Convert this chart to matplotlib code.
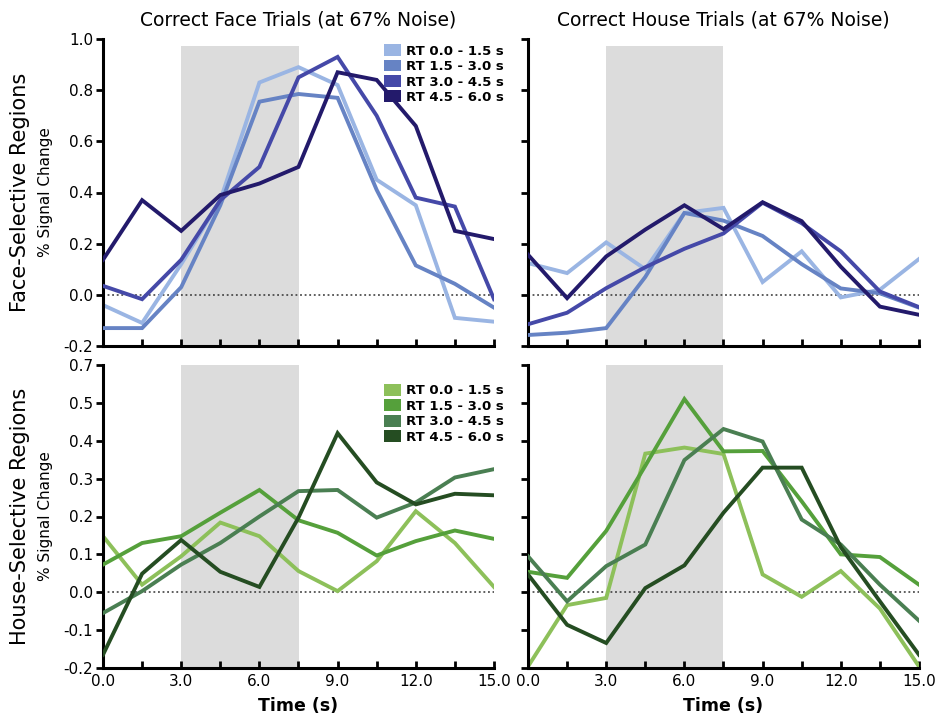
"""Face/house selective regions: % signal change by RT bin."""
import numpy as np
import matplotlib
matplotlib.use('Agg')
import matplotlib.pyplot as plt
from matplotlib.patches import Patch

time = [0.0, 1.5, 3.0, 4.5, 6.0, 7.5, 9.0, 10.5, 12.0, 13.5, 15.0]
rt_labels = ['RT 0.0 - 1.5 s', 'RT 1.5 - 3.0 s', 'RT 3.0 - 4.5 s', 'RT 4.5 - 6.0 s']
col_titles = ['Correct Face Trials (at 67% Noise)', 'Correct House Trials (at 67% Noise)']
row_titles = ['Face-Selective Regions', 'House-Selective Regions']
xtick_labels = ['0.0', '3.0', '6.0', '9.0', '12.0', '15.0']
ytick_labels_top = ['-0.2', '0.0', '0.2', '0.4', '0.6', '0.8', '1.0']
ytick_labels_bot = ['-0.2', '-0.1', '0.0', '0.1', '0.2', '0.3', '0.4', '0.5', '0.7']

# face-selective regions, correct face trials
face_face = [
    [-0.04, -0.11, 0.12, 0.37, 0.83, 0.89, 0.82, 0.45, 0.35, -0.09, -0.105],
    [-0.13, -0.13, 0.03, 0.35, 0.755, 0.785, 0.77, 0.41, 0.115, 0.043, -0.05],
    [0.035, -0.017, 0.137, 0.37, 0.50, 0.85, 0.93, 0.70, 0.38, 0.345, -0.017],
    [0.137, 0.37, 0.25, 0.39, 0.435, 0.50, 0.87, 0.84, 0.66, 0.25, 0.218],
]
# face-selective regions, correct house trials
face_house = [
    [0.124, 0.085, 0.205, 0.10, 0.32, 0.34, 0.05, 0.17, -0.01, 0.02, 0.14],
    [-0.157, -0.148, -0.13, 0.07, 0.32, 0.29, 0.23, 0.12, 0.025, 0.006, -0.05],
    [-0.115, -0.07, 0.026, 0.108, 0.18, 0.24, 0.36, 0.28, 0.17, 0.013, -0.048],
    [0.157, -0.013, 0.15, 0.255, 0.35, 0.257, 0.362, 0.288, 0.11, -0.046, -0.078],
]
# house-selective regions, correct face trials
house_face = [
    [0.148, 0.02, 0.095, 0.184, 0.148, 0.056, 0.003, 0.082, 0.214, 0.13, 0.014],
    [0.073, 0.13, 0.148, 0.21, 0.27, 0.19, 0.157, 0.097, 0.135, 0.163, 0.141],
    [-0.055, 0.003, 0.073, 0.13, 0.20, 0.267, 0.27, 0.197, 0.237, 0.303, 0.325],
    [-0.165, 0.049, 0.138, 0.054, 0.014, 0.197, 0.42, 0.29, 0.232, 0.26, 0.256],
]
# house-selective regions, correct house trials
house_house = [
    [-0.196, -0.034, -0.015, 0.366, 0.382, 0.365, 0.047, -0.012, 0.056, -0.043, -0.196],
    [0.054, 0.038, 0.162, 0.334, 0.51, 0.372, 0.373, 0.24, 0.10, 0.093, 0.02],
    [0.095, -0.024, 0.069, 0.126, 0.349, 0.431, 0.398, 0.192, 0.126, 0.02, -0.075],
    [0.047, -0.086, -0.134, 0.011, 0.071, 0.21, 0.329, 0.329, 0.119, -0.024, -0.165],
]

blues = ['#9ab5e3', '#6683c4', '#4549a8', '#231a6b']
greens = ['#8dc05a', '#55a03b', '#4a7f52', '#254d22']

fig = plt.figure(figsize=(9.37, 7.23), dpi=100)
W, H = 937, 723
def box(x0, x1, y0, y1):
    return [x0 / W, 1 - y1 / H, (x1 - x0) / W, (y1 - y0) / H]

axes = [[fig.add_axes(box(103, 494, 39, 346)), fig.add_axes(box(528, 919, 39, 346))],
        [fig.add_axes(box(103, 494, 365, 668)), fig.add_axes(box(528, 919, 365, 668))]]

panels = [[face_face, face_house], [house_face, house_house]]
palettes = [blues, greens]

for r in range(2):
    for c in range(2):
        ax = axes[r][c]
        cols = palettes[r]
        if r == 0:
            ax.set_ylim(-0.2, 1.0)
            ax.axvspan(3.0, 7.5, ymax=0.977, color='#dcdcdc', lw=0, zorder=0)
        else:
            ax.set_ylim(-0.2, 0.6)
            ax.axvspan(3.0, 7.5, color='#dcdcdc', lw=0, zorder=0)
        ax.axhline(0, color='#333333', ls=(0, (1.2, 1.8)), lw=1.1, zorder=1)
        for k, series in enumerate(panels[r][c]):
            ax.plot(time, series, color=cols[k], lw=2.8, solid_joinstyle='miter', zorder=2 + k)
        ax.set_xlim(0, 15)
        ax.set_xticks(np.arange(0, 15.1, 3.0))
        ax.set_xticks(np.arange(0, 15.1, 1.5), minor=True)
        if r == 0:
            ax.set_yticks(np.arange(-0.2, 1.01, 0.2))
            ax.set_yticklabels(ytick_labels_top if c == 0 else [])
        else:
            ax.set_yticks(np.arange(-0.2, 0.61, 0.1))
            ax.set_yticklabels(ytick_labels_bot if c == 0 else [])
        if r == 1:
            ax.set_xticklabels(xtick_labels, fontsize=11)
            ax.set_xlabel('Time (s)', fontsize=12.5, fontweight='bold', labelpad=6)
        else:
            ax.set_xticklabels([])
        for s in ['top', 'right']:
            ax.spines[s].set_visible(False)
        for s in ['left', 'bottom']:
            ax.spines[s].set_linewidth(2.2)
            ax.spines[s].set_color('black')
        ax.tick_params(axis='x', which='both', direction='in', length=5, width=2, pad=4)
        ax.tick_params(axis='y', which='both', direction='out', length=5, width=2, labelsize=11, pad=2)
        ax.patch.set_visible(False)
        if r == 0:
            ax.set_title(col_titles[c], fontsize=13.5, pad=10)
        if c == 0:
            handles = [Patch(facecolor=cols[k], edgecolor='none', label=rt_labels[k]) for k in range(4)]
            yanchor = 1.0 if r == 0 else 0.955
            leg = ax.legend(handles=handles, loc='upper right', bbox_to_anchor=(1.04, yanchor),
                            frameon=False, fontsize=9.5, handlelength=1.3, handleheight=1.0,
                            handletextpad=0.4, labelspacing=0.15, borderaxespad=0)
            for t in leg.get_texts():
                t.set_fontweight('bold')

# row labels
fig.text(20 / W, 1 - 192 / H, row_titles[0], rotation=90, fontsize=15, ha='center', va='center')
fig.text(46 / W, 1 - 192 / H, '% Signal Change', rotation=90, fontsize=11, ha='center', va='center')
fig.text(20 / W, 1 - 516 / H, row_titles[1], rotation=90, fontsize=15, ha='center', va='center')
fig.text(46 / W, 1 - 516 / H, '% Signal Change', rotation=90, fontsize=11, ha='center', va='center')

fig.savefig('out.png', dpi=100)
